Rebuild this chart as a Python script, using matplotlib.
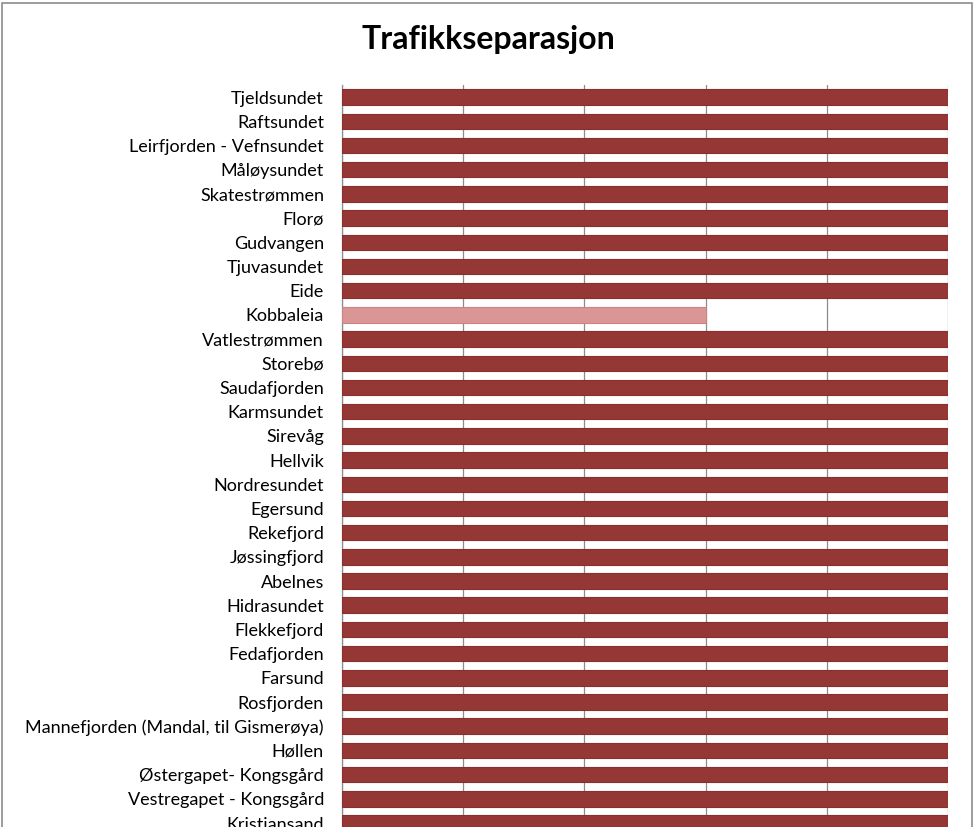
import matplotlib.pyplot as plt
from matplotlib.patches import Rectangle

# --- Data (top to bottom as shown) ---
places = [
    "Tjeldsundet", "Raftsundet", "Leirfjorden - Vefnsundet", "Måløysundet",
    "Skatestrømmen", "Florø", "Gudvangen", "Tjuvasundet", "Eide", "Kobbaleia",
    "Vatlestrømmen", "Storebø", "Saudafjorden", "Karmsundet", "Sirevåg",
    "Hellvik", "Nordresundet", "Egersund", "Rekefjord", "Jøssingfjord",
    "Abelnes", "Hidrasundet", "Flekkefjord", "Fedafjorden", "Farsund",
    "Rosfjorden", "Mannefjorden (Mandal, til Gismerøya)", "Høllen",
    "Østergapet- Kongsgård", "Vestregapet - Kongsgård", "Kristiansand",
]
values = [1, 1, 1, 1, 1, 1, 1, 1, 1, 0.6,
          1, 1, 1, 1, 1, 1, 1, 1, 1, 1,
          1, 1, 1, 1, 1, 1, 1, 1, 1, 1, 1]
highlight = ["Kobbaleia"]

dark = "#953735"
light = "#D99694"

plt.rcParams['font.family'] = ['Lato', 'DejaVu Sans']

W, H = 977, 827
fig = plt.figure(figsize=(W / 100, H / 100), dpi=100)

# outer chart border (bottom is cut off in the original)
fig.patches.append(Rectangle((2 / W, -0.1), 970 / W, 1.1 - 3 / H,
                             transform=fig.transFigure, fill=False,
                             edgecolor="#8c8c8c", linewidth=1.2))

ax = fig.add_axes([342 / W, 0, (948 - 342) / W, 1 - 85 / H])

ypos = list(range(len(places)))
colors = [light if p in highlight else dark for p in places]
edges = ["#C98583" if p in highlight else "#8A2F2D" for p in places]
ax.barh(ypos, values, height=0.64, color=colors, edgecolor=edges,
        linewidth=0.8, zorder=3)

ax.set_xlim(0, 1)
ax.set_ylim((827 - 97) / 24.2, -0.5)
ax.set_xticks([0, 0.2, 0.4, 0.6, 0.8, 1.0])
ax.set_xticklabels([])
ax.tick_params(axis="x", length=0)
ax.grid(axis="x", color="#8c8c8c", linewidth=0.9, zorder=0)

ax.set_yticks(ypos)
ax.set_yticklabels(places, fontsize=13)
ax.tick_params(axis="y", length=0, pad=13)

for s in ["top", "right", "bottom"]:
    ax.spines[s].set_visible(False)
ax.spines["left"].set_color("#8c8c8c")
ax.spines["left"].set_linewidth(0.9)

fig.text(488 / W, 1 - 40 / H, "Trafikkseparasjon", ha="center", va="center",
         fontsize=23, fontweight="bold")

fig.savefig("out.png", dpi=100)
